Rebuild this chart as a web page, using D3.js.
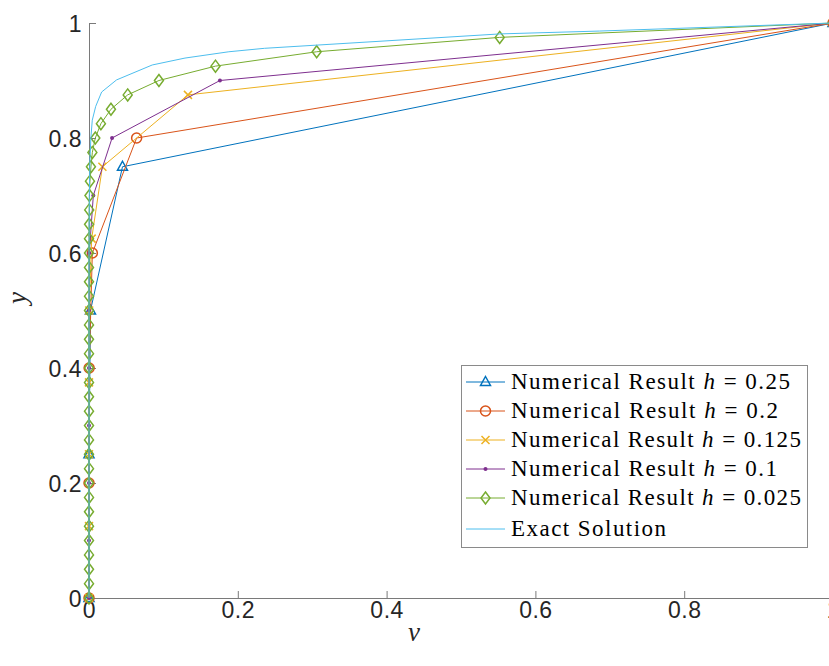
<!DOCTYPE html>
<meta charset="utf-8">
<script src="https://d3js.org/d3.v7.min.js"></script>
<style>
  body { margin: 0; background: #fff; }
  svg { display: block; }
</style>
<div id="chart"></div>
<script>

// values
var yTicks = [0, 0.2, 0.4, 0.6, 0.8, 1];
var xTicks = [0, 0.2, 0.4, 0.6, 0.8, 1];

var yB = [0, 0.25, 0.5, 0.75, 1];
var vB = [0, 0, 0.002, 0.045, 1];

var yO = [0, 0.2, 0.4, 0.6, 0.8, 1];
var vO = [0, 0, 0.0002, 0.0045, 0.064, 1];

var yY = [0, 0.125, 0.25, 0.375, 0.5, 0.625, 0.75, 0.875, 1];
var vY = [0, 0, 0, 0, 0.0003, 0.0036, 0.018, 0.133, 1];

var yP = [0, 0.1, 0.2, 0.3, 0.4, 0.5, 0.6, 0.7, 0.8, 0.9, 1];
var vP = [0, 0, 0, 0, 0, 0, 0.0004, 0.0058, 0.031, 0.176, 1];

var yG = [0, 0.025, 0.05, 0.075, 0.1, 0.125, 0.15, 0.175, 0.2, 0.225, 0.25, 0.275, 0.3, 0.325,
  0.35, 0.375, 0.4, 0.425, 0.45, 0.475, 0.5, 0.525, 0.55, 0.575, 0.6, 0.625, 0.65, 0.675, 0.7,
  0.725, 0.75, 0.775, 0.8, 0.825, 0.85, 0.875, 0.9, 0.925, 0.95, 0.975, 1];
var vG = [0, 0, 0, 0, 0, 0, 0, 0, 0, 0, 0, 0, 0, 0, 0, 0, 0, 0, 0, 0, 0, 0, 0, 0, 0, 0,
  0.0001, 0.0003, 0.0006, 0.0013, 0.0026, 0.0045, 0.0085, 0.016, 0.0295, 0.052, 0.094, 0.170,
  0.306, 0.552, 1];

var yE = [0, 0.6, 0.7, 0.76, 0.8, 0.831, 0.855, 0.88, 0.901, 0.927, 0.939, 0.95, 0.956, 0.981, 0.986, 1];
var vE = [0, 0, 0.0004, 0.0012, 0.0025, 0.0044, 0.009, 0.017, 0.037, 0.085, 0.129, 0.188, 0.236, 0.552, 0.686, 1];

var hLabels = ["0.25", "0.2", "0.125", "0.1", "0.025"];

var series = [
  {v: vB, y: yB, color: "#0072BD", marker: "triangle", h: hLabels[0], tl: 279},
  {v: vO, y: yO, color: "#D95319", marker: "circle", h: hLabels[1], tl: 267},
  {v: vY, y: yY, color: "#EDB120", marker: "cross", h: hLabels[2], tl: 290},
  {v: vP, y: yP, color: "#7E2F8E", marker: "dot", h: hLabels[3], tl: 266},
  {v: vG, y: yG, color: "#77AC30", marker: "diamond", h: hLabels[4], tl: 290},
  {v: vE, y: yE, color: "#4DBEEE", marker: "none", h: null, tl: 155}
];

var W = 829, H = 666;
var x = d3.scaleLinear().domain([0, 1]).range([89, 833]);
var y = d3.scaleLinear().domain([0, 1]).range([598, 23]);

var svg = d3.select("#chart").append("svg")
  .attr("width", W).attr("height", H)
  .style("background", "#fff");

var axisCol = "#7a7a7a";

// axes (box off, ticks inside)
var xAxis = svg.append("g").attr("transform", "translate(0," + y(0) + ")")
  .call(d3.axisBottom(x).tickValues(xTicks).tickSizeInner(-7).tickSizeOuter(0).tickFormat(d3.format("")));
var yAxis = svg.append("g").attr("transform", "translate(" + x(0) + ",0)")
  .call(d3.axisLeft(y).tickValues(yTicks).tickSizeInner(-7).tickSizeOuter(0).tickFormat(d3.format("")));

[xAxis, yAxis].forEach(function(a) {
  a.select(".domain").attr("stroke", axisCol).attr("stroke-width", 1);
  a.selectAll(".tick line").attr("stroke", axisCol);
  a.selectAll(".tick text")
    .attr("fill", "#262626")
    .style("font-family", "'Liberation Sans', Arial, sans-serif")
    .style("font-size", "23px")
    .style("letter-spacing", "0.5px");
});
xAxis.selectAll(".tick text").attr("y", 4).attr("dy", "0.71em");
yAxis.selectAll(".tick text").attr("x", -7).attr("dy", "0.36em");

// axis labels
svg.append("text")
  .attr("x", 414).attr("y", 641)
  .attr("text-anchor", "middle")
  .style("font-family", "'Liberation Serif', 'DejaVu Serif', serif")
  .style("font-style", "italic")
  .style("font-size", "27px")
  .attr("fill", "#262626")
  .text("v");
svg.append("text")
  .attr("transform", "translate(26,298)rotate(-90)")
  .attr("text-anchor", "middle")
  .style("font-family", "'Liberation Serif', 'DejaVu Serif', serif")
  .style("font-style", "italic")
  .style("font-size", "27px")
  .attr("fill", "#262626")
  .text("y");

function drawMarker(g, kind, cx, cy, color) {
  if (kind === "triangle") {
    g.append("path").attr("d", "M" + cx + "," + (cy - 5.5) + "L" + (cx + 5) + "," + (cy + 3.5) + "L" + (cx - 5) + "," + (cy + 3.5) + "Z")
      .attr("fill", "none").attr("stroke", color).attr("stroke-width", 1.5);
  } else if (kind === "circle") {
    g.append("circle").attr("cx", cx).attr("cy", cy).attr("r", 5)
      .attr("fill", "none").attr("stroke", color).attr("stroke-width", 1.5);
  } else if (kind === "cross") {
    g.append("path").attr("d", "M" + (cx - 4) + "," + (cy - 4) + "L" + (cx + 4) + "," + (cy + 4) + "M" + (cx - 4) + "," + (cy + 4) + "L" + (cx + 4) + "," + (cy - 4))
      .attr("stroke", color).attr("stroke-width", 1.5);
  } else if (kind === "dot") {
    g.append("circle").attr("cx", cx).attr("cy", cy).attr("r", 2)
      .attr("fill", color);
  } else if (kind === "diamond") {
    g.append("path").attr("d", "M" + cx + "," + (cy - 6) + "L" + (cx + 4.5) + "," + cy + "L" + cx + "," + (cy + 6) + "L" + (cx - 4.5) + "," + cy + "Z")
      .attr("fill", "none").attr("stroke", color).attr("stroke-width", 1.5);
  }
}

var line = d3.line().x(function(d) { return x(d[0]); }).y(function(d) { return y(d[1]); });

series.forEach(function(s) {
  var pts = s.v.map(function(v, i) { return [v, s.y[i]]; });
  var g = svg.append("g");
  g.append("path").datum(pts).attr("d", line)
    .attr("fill", "none").attr("stroke", s.color).attr("stroke-width", 1);
  pts.forEach(function(p) { drawMarker(g, s.marker, x(p[0]), y(p[1]), s.color); });
});

// legend
var lg = svg.append("g");
lg.append("rect").attr("x", 461.5).attr("y", 365.5).attr("width", 346).attr("height", 182)
  .attr("fill", "#fff").attr("stroke", "#8a8a8a").attr("stroke-width", 1);
var rowY = [382, 411, 440, 469, 498, 529];
series.forEach(function(s, i) {
  var ry = rowY[i];
  lg.append("line").attr("x1", 466).attr("x2", 505).attr("y1", ry).attr("y2", ry)
    .attr("stroke", s.color).attr("stroke-width", 1);
  drawMarker(lg, s.marker, 485.5, ry, s.color);
  var t = lg.append("text").attr("x", 511).attr("y", ry + 7)
    .style("font-family", "'Liberation Serif', 'Times New Roman', serif")
    .style("font-size", "23px")
    .attr("fill", "#000")
    .attr("textLength", s.tl).attr("lengthAdjust", "spacing");
  if (s.h) {
    t.append("tspan").text("Numerical Result ");
    t.append("tspan").style("font-style", "italic").text("h");
    t.append("tspan").text(" = " + s.h);
  } else {
    t.text("Exact Solution");
  }
});
</script>
